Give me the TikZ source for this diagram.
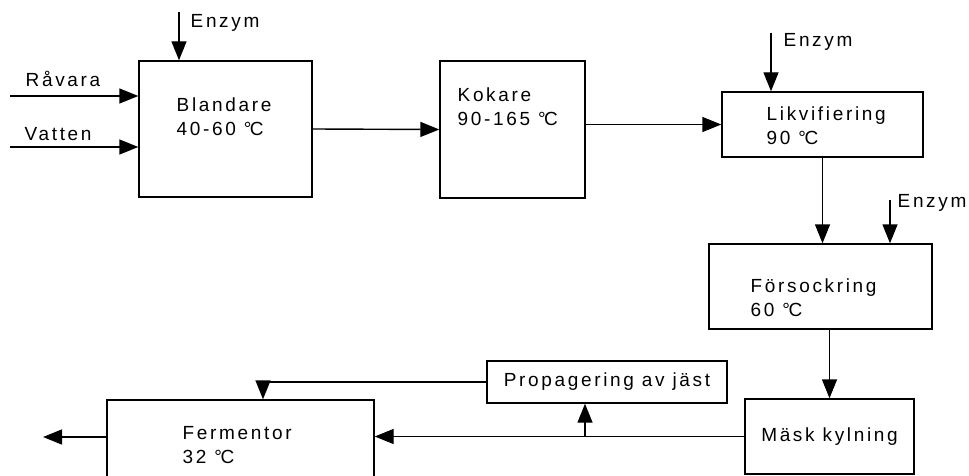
\documentclass[tikz,border=0pt]{standalone}
\usepackage{fontspec}
\setmainfont[LetterSpace=14]{Liberation Sans}
\usetikzlibrary{arrows.meta, positioning, calc}
\newcommand{\degc}{°\kern-1.5pt C}

\begin{document}
\begin{tikzpicture}[x=1pt, y=-1pt, >={Triangle[length=19pt, width=15pt]},
    line width=1.4pt,
    box/.style={draw, rectangle, inner sep=0pt},
    lbl/.style={inner sep=0pt, font=\fontsize{19}{24}\selectfont, align=left}]
      \useasboundingbox (0,0) rectangle (969,476);

      % Process boxes
      \node[box, minimum width=173pt, minimum height=136pt] (blandare) at (225.5,129) {};
      \node[box, minimum width=145pt, minimum height=137pt] (kokare) at (512.5,129.5) {};
      \node[box, minimum width=201pt, minimum height=65pt] (likv) at (822.5,124.5) {};
      \node[box, minimum width=223pt, minimum height=85pt] (fors) at (820.5,286.5) {};
      \node[box, minimum width=169pt, minimum height=75pt, font=\fontsize{19}{24}\selectfont] (mask) at (829.5,436.5) {Mäsk kylning};
      \node[box, minimum width=240pt, minimum height=42pt, font=\fontsize{19}{24}\selectfont] (prop) at (607,382) {Propagering av jäst};
      \node[box, minimum width=267pt, minimum height=80pt] (ferm) at (240.5,440) {};

      % Box texts
      \node[lbl, anchor=north west] (blandare-t) at (176,97) {Blandare\\40-60 \degc};
      \node[lbl, anchor=north west] (kokare-t) at (457,87) {Kokare\\90-165 \degc};
      \node[lbl, anchor=north west] (likv-t) at (766,106) {Likvifiering\\90 \degc};
      \node[lbl, anchor=north west] (fors-t) at (750,278) {Försockring\\60 \degc};
      \node[lbl, anchor=north west] (ferm-t) at (182,426) {Fermentor\\32 \degc};

      % Inputs
      \coordinate (rav-in) at (10,96);
      \coordinate (vat-in) at (10,147);
      \coordinate (enz1-in) at (179,12);
      \coordinate (enz2-in) at (771,33);
      \coordinate (enz3-in) at (890,200);
      \node[lbl, anchor=base west] (rav-t) at (25,87) {Råvara};
      \node[lbl, anchor=base west] (vat-t) at (24,141) {Vatten};
      \node[lbl, anchor=base west] (enz1-t) at (190,28) {Enzym};
      \node[lbl, anchor=base west] (enz2-t) at (783,47) {Enzym};
      \node[lbl, anchor=base west] (enz3-t) at (897,207) {Enzym};

      \draw[->] (rav-in) -- (rav-in -| blandare.west);
      \draw[->] (vat-in) -- (vat-in -| blandare.west);
      \draw[->] (enz1-in) -- (enz1-in |- blandare.north);
      \draw[->] (enz2-in) -- (enz2-in |- likv.north);
      \draw[->] (enz3-in) -- (enz3-in |- fors.north);

      % Main flow
      \draw[->] (blandare.east) -- (kokare.west);
      \draw[->] (kokare.east |- likv.west) -- (likv.west);
      \draw[->] (likv.south) -- (likv.south |- fors.north);
      \draw[->] (mask.north |- fors.south) -- (mask.north);
      \draw[->] (mask.west) -- (mask.west -| ferm.east);

      % Yeast loop
      \coordinate (split) at (585,0);
      \coordinate (yeast) at (263,0);
      \draw[->] (split |- mask.west) -- (split |- prop.south);
      \draw[->] (prop.west) -| (yeast |- ferm.north);

      % Output
      \coordinate (ferm-out) at ([yshift=3pt]ferm.west);
      \coordinate (out) at (43,0);
      \draw[->] (ferm-out) -- (out |- ferm-out);

\end{tikzpicture}
\end{document}
